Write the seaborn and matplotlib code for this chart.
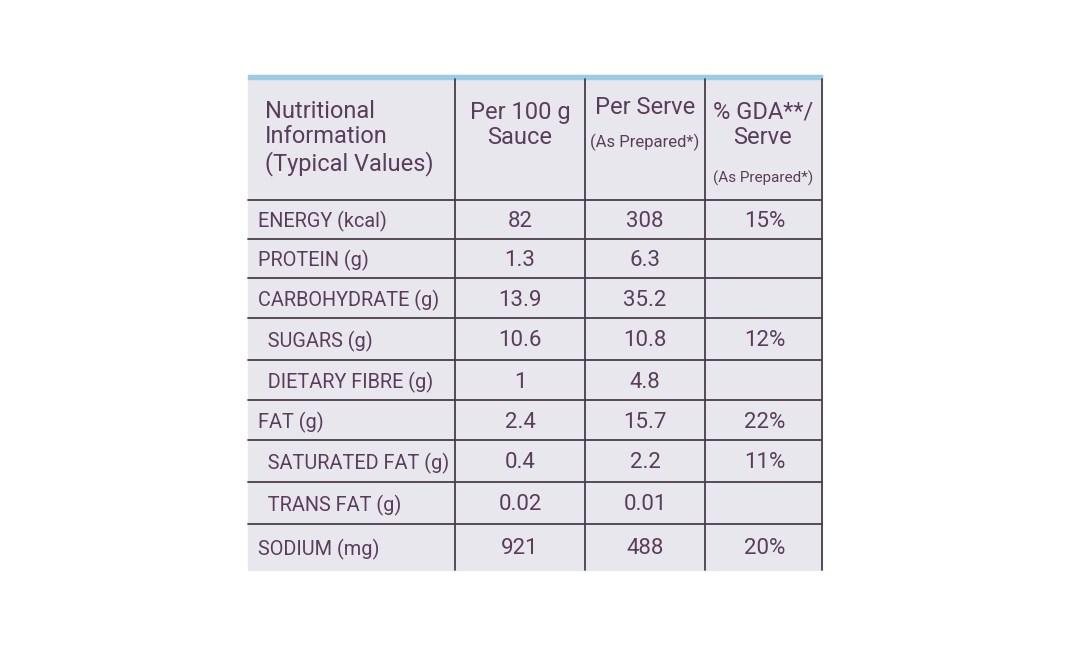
import matplotlib
matplotlib.use("Agg")
import matplotlib.pyplot as plt
import seaborn as sns

sns.set_theme(style="white")
plt.rcParams['font.family'] = ['Roboto', 'DejaVu Sans']

header = ["Nutritional\nInformation\n(Typical Values)", "Per 100 g\nSauce", "Per Serve", "% GDA**/\nServe"]
subheader = ["", "", "(As Prepared*)", "(As Prepared*)"]
nutrients = ["ENERGY (kcal)", "PROTEIN (g)", "CARBOHYDRATE (g)", "  SUGARS (g)", "  DIETARY FIBRE (g)",
             "FAT (g)", "  SATURATED FAT (g)", "  TRANS FAT (g)", "SODIUM (mg)"]
per100 = ["82", "1.3", "13.9", "10.6", "1", "2.4", "0.4", "0.02", "921"]
perserve = ["308", "6.3", "35.2", "10.8", "4.8", "15.7", "2.2", "0.01", "488"]
gda = ["15%", "", "", "12%", "", "22%", "11%", "", "20%"]

col_edges = [248, 455, 585, 705, 822]
row_edges = [75, 200, 239, 278, 318, 360, 400, 440, 482, 524, 570]

fig = plt.figure(figsize=(10.68, 6.71), dpi=100)
ax = fig.add_axes([0, 0, 1, 1])
ax.set_xlim(0, 1068); ax.set_ylim(671, 0); ax.axis("off")
ax.add_patch(plt.Rectangle((248, 75), 574, 495, color="#e9e7ee", zorder=0))
ax.add_patch(plt.Rectangle((248, 75), 574, 4, color="#9ccbe6", zorder=1))
txt = "#5a3d5c"; line = "#4a3d4a"
for y in row_edges[1:-1]:
    ax.plot([248, 822], [y, y], color=line, lw=1.3)
for x in col_edges[1:-1]:
    ax.plot([x, x], [79, 570], color=line, lw=1.3)
ax.plot([822, 822], [79, 570], color=line, lw=1.3)

ax.text(265, 138, header[0], ha="left", va="center", fontsize=17, color=txt, linespacing=1.15)
ax.text(520, 125, header[1], ha="center", va="center", fontsize=17, color=txt, linespacing=1.15)
ax.text(645, 108, header[2], ha="center", va="center", fontsize=17, color=txt)
ax.text(645, 142, subheader[2], ha="center", va="center", fontsize=12, color=txt)
ax.text(763, 125, header[3], ha="center", va="center", fontsize=17, color=txt, linespacing=1.15)
ax.text(763, 178, subheader[3], ha="center", va="center", fontsize=11, color=txt)

for i, n in enumerate(nutrients):
    yc = (row_edges[i + 1] + row_edges[i + 2]) / 2 + 2
    ax.text(258, yc, n, ha="left", va="center", fontsize=14.3, color=txt)
    ax.text(520, yc, per100[i], ha="center", va="center", fontsize=16, color=txt)
    ax.text(645, yc, perserve[i], ha="center", va="center", fontsize=16, color=txt)
    ax.text(765, yc, gda[i], ha="center", va="center", fontsize=16, color=txt)

fig.savefig("out.png", dpi=100, facecolor="white")
